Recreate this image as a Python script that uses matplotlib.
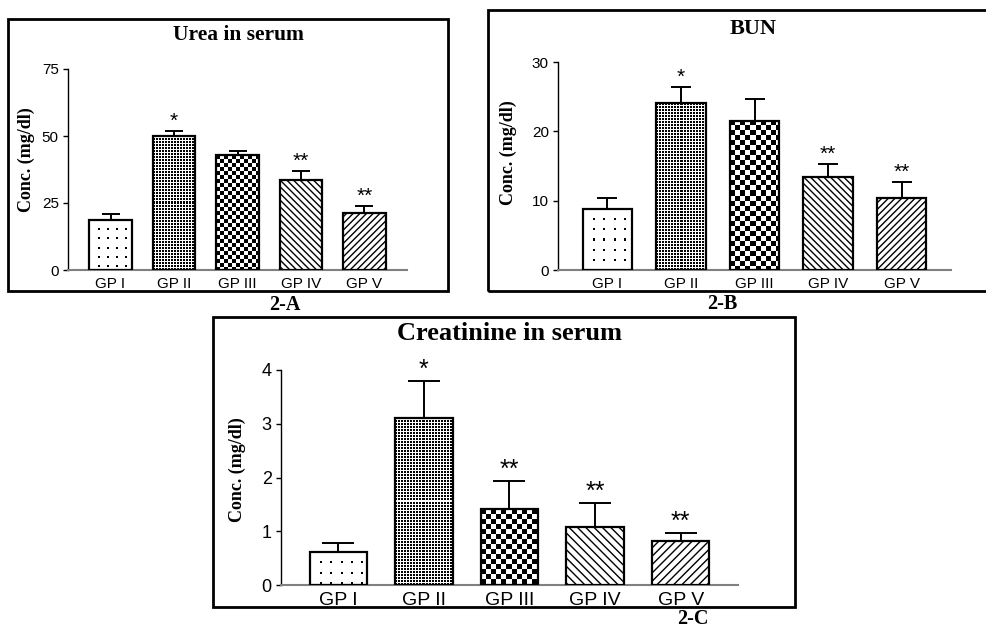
import numpy as np
import matplotlib
matplotlib.use('Agg')
import matplotlib.pyplot as plt
from matplotlib.patches import Rectangle

plt.rcParams['font.family'] = 'Liberation Sans'

W, H = 987, 628

groups = ['GP I', 'GP II', 'GP III', 'GP IV', 'GP V']

urea = [18.7, 50.1, 42.9, 33.6, 21.3]
urea_err = [2.2, 1.9, 1.5, 3.3, 2.6]
urea_sig = ['', '*', '', '**', '**']

bun = [8.8, 24.05, 21.5, 13.4, 10.4]
bun_err = [1.6, 2.35, 3.2, 1.9, 2.25]
bun_sig = ['', '*', '', '**', '**']

creat = [0.62, 3.11, 1.41, 1.085, 0.82]
creat_err = [0.16, 0.68, 0.53, 0.435, 0.15]
creat_sig = ['', '*', '**', '**', '**']

fills = ['sparse', 'grid', 'checker', '\\', '/']


def px_rect(x0, y0, x1, y1):
    return [x0 / W, 1 - y1 / H, (x1 - x0) / W, (y1 - y0) / H]


def make_pattern(kind, nrow, ncol, cell):
    i, j = np.mgrid[0:nrow, 0:ncol]
    if kind == 'sparse':
        p = cell + 5
        return ((i % p) < 2) & ((j % p) < 2) & (i > 2) & (j > 2)
    if kind == 'grid':
        return ((i % 3) < 2) & ((j % 3) < 2)
    return ((i // cell + j // cell) % 2) == 0


def panel(box, axpx, vals, errs, sig, ymax, yticks, title, tpos, tsize,
          tag, tagpos, ylab_pos, tick_fs, xt_fs, star_fs, capsize, cell,
          dens):
    fig.add_artist(Rectangle((box[0] / W, 1 - box[3] / H),
                             (box[2] - box[0]) / W, (box[3] - box[1]) / H,
                             transform=fig.transFigure, fill=False,
                             lw=2, ec='black', zorder=10))
    ax = fig.add_axes(px_rect(*axpx))
    x = np.arange(len(groups))
    bw = 0.67
    xlim = (-0.67, len(groups) - 1 + 0.67)
    ax.bar(x, vals, width=bw, color='white', edgecolor='none', zorder=1)

    ax_w = axpx[2] - axpx[0]
    ax_h = axpx[3] - axpx[1]
    sx = ax_w / (xlim[1] - xlim[0])
    sy = ax_h / ymax
    for k, v in enumerate(vals):
        f = fills[k]
        if f in ('sparse', 'grid', 'checker'):
            ncol = int(round(bw * sx))
            nrow = int(round(v * sy))
            img = make_pattern(f, nrow, ncol, cell).astype(float)
            clip = Rectangle((x[k] - bw / 2, 0), bw, v, transform=ax.transData)
            im = ax.imshow(img, extent=(x[k] - bw / 2, x[k] + bw / 2, 0, v),
                           cmap='gray_r', vmin=0, vmax=1, aspect='auto',
                           interpolation='nearest', zorder=2)
            im.set_clip_path(clip)
            ax.bar(x[k], v, width=bw, fill=False, edgecolor='black',
                   lw=1.6, zorder=3)
        else:
            ax.bar(x[k], v, width=bw, color='white', edgecolor='black',
                   hatch=f * dens, lw=1.6, zorder=3)

    ax.errorbar(x, vals, yerr=[np.zeros(len(vals)), errs], fmt='none',
                ecolor='black', elinewidth=1.4, capsize=capsize,
                capthick=1.4, zorder=4)
    for k in range(len(vals)):
        if sig[k]:
            ax.annotate(sig[k], (x[k], vals[k] + errs[k]), xytext=(0, 3),
                        textcoords='offset points', ha='center',
                        va='baseline', fontsize=star_fs)

    ax.set_xlim(*xlim)
    ax.set_ylim(0, ymax)
    ax.set_yticks(yticks)
    ax.set_xticks(x)
    ax.set_xticklabels(groups, fontsize=xt_fs)
    ax.tick_params(axis='x', length=0, pad=5)
    ax.tick_params(axis='y', length=3.6, width=1, labelsize=tick_fs, pad=3)
    ax.spines['top'].set_visible(False)
    ax.spines['right'].set_visible(False)
    ax.spines['bottom'].set_color('#808080')
    ax.spines['bottom'].set_linewidth(1.5)
    ax.spines['left'].set_linewidth(1)
    ax.patch.set_alpha(0)

    fig.text(tpos[0] / W, 1 - tpos[1] / H, title, ha='center', va='center',
             family='Liberation Serif', weight='bold', fontsize=tsize)
    fig.text(tagpos[0] / W, 1 - tagpos[1] / H, tag, ha='center', va='center',
             family='Liberation Serif', weight='bold', fontsize=14.5)
    fig.text(ylab_pos[0] / W, 1 - ylab_pos[1] / H, 'Conc. (mg/dl)',
             rotation=90, ha='center', va='center',
             family='Liberation Serif', weight='bold', fontsize=13)
    return ax


fig = plt.figure(figsize=(W / 100, H / 100), dpi=100)

panel((8, 19, 448, 291), (68, 69, 407, 270), urea, urea_err, urea_sig,
      75, [0, 25, 50, 75], 'Urea in serum', (238, 35), 15.5,
      '2-A', (285, 305), (26, 160), 11, 11, 15, 6.8, 4, 5)

panel((488, 10, 990, 291), (558, 62, 951, 270), bun, bun_err, bun_sig,
      30, [0, 10, 20, 30], 'BUN', (753, 29), 16,
      '2-B', (722, 304), (508, 153), 11, 11, 15, 7.2, 5, 5)

panel((213, 317, 795, 607), (281, 370, 738, 585), creat, creat_err, creat_sig,
      4, [0, 1, 2, 3, 4], 'Creatinine in serum', (510, 334), 19,
      '2-C', (693, 619), (237, 470), 13, 14, 18, 11.5, 5, 4)

fig.savefig('out.png', dpi=100)
